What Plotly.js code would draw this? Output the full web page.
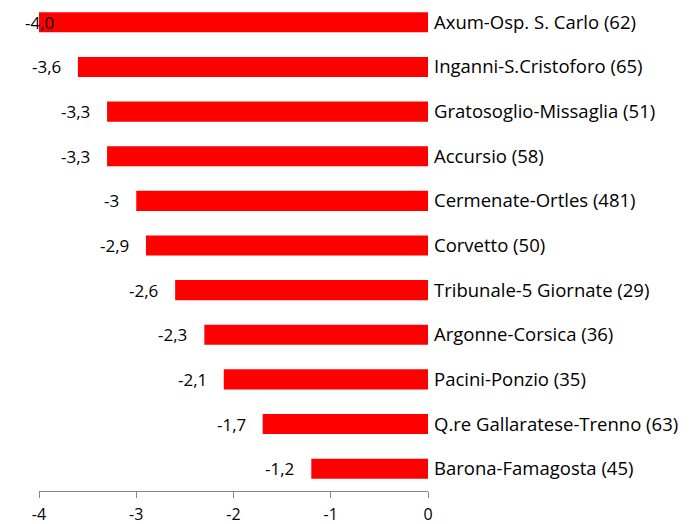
<!DOCTYPE html>
<html><head><meta charset="utf-8">
<script src="https://cdn.plot.ly/plotly-3.0.1.min.js"></script>
<style>html,body{margin:0;padding:0;background:#fff;}#chart{width:691px;height:524px;}</style>
</head><body><div id="chart"></div>
<script>
const categories = ["Axum-Osp. S. Carlo (62)","Inganni-S.Cristoforo (65)","Gratosoglio-Missaglia (51)","Accursio (58)","Cermenate-Ortles (481)","Corvetto (50)","Tribunale-5 Giornate (29)","Argonne-Corsica (36)","Pacini-Ponzio (35)","Q.re Gallaratese-Trenno (63)","Barona-Famagosta (45)"];
const values = [-4.0,-3.6,-3.3,-3.3,-3.0,-2.9,-2.6,-2.3,-2.1,-1.7,-1.2];
const valueLabels = ["-4,0","-3,6","-3,3","-3,3","-3","-2,9","-2,6","-2,3","-2,1","-1,7","-1,2"];
const tickVals = [-4,-3,-2,-1,0];
const tickText = ["-4","-3","-2","-1","0"];

const FONT = "Open Sans, Liberation Sans, sans-serif";
const L = 39, R = 263;
const pxPerUnit = (691 - L - R) / 4;

const annotations = values.map((v, i) => {
  const px = L + (v + 4) * pxPerUnit;
  const w = valueLabels[i].length * 9;
  let shift = -15;
  if (px + shift - w < 20) shift = 20 + w - px;
  return {x: v, y: categories[i], xref: 'x', yref: 'y', text: valueLabels[i],
    showarrow: false, xanchor: 'right', xshift: shift,
    font: {family: FONT, size: 17, color: '#000'}};
});

const trace = {
  type: 'bar', orientation: 'h', x: values, y: categories,
  marker: {color: '#FF0000'}, hoverinfo: 'none'
};

const layout = {
  width: 691, height: 524,
  margin: {l: L, r: R, t: 0, b: 33, pad: 0},
  paper_bgcolor: '#fff', plot_bgcolor: '#fff',
  bargap: 0.55, showlegend: false,
  xaxis: {range: [-4, 0], tickvals: tickVals, ticktext: tickText,
    showgrid: false, zeroline: false, showline: true, linecolor: '#868686', linewidth: 1,
    ticks: 'outside', ticklen: 6, tickcolor: '#868686', tickwidth: 1, ticklabelstandoff: 3,
    tickfont: {family: FONT, size: 16, color: '#000'}, fixedrange: true},
  yaxis: {type: 'category', autorange: 'reversed', side: 'right',
    showgrid: false, zeroline: false, showline: false, ticks: '', ticklen: 0, ticklabelstandoff: 5,
    tickfont: {family: FONT, size: 18.5, color: '#000'}, fixedrange: true},
  annotations: annotations
};

Plotly.newPlot('chart', [trace], layout, {displayModeBar: false, staticPlot: true});
</script></body></html>
